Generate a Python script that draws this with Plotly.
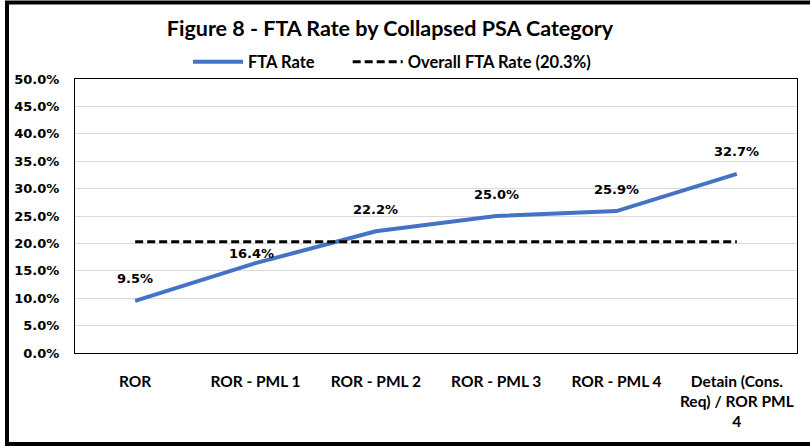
import plotly.graph_objects as go

categories = ["ROR", "ROR - PML 1", "ROR - PML 2", "ROR - PML 3", "ROR - PML 4",
              "Detain (Cons.<br>Req) / ROR PML<br>4"]
fta_rate = [9.5, 16.4, 22.2, 25.0, 25.9, 32.7]
overall_rate = [20.3] * len(categories)
label_text = ["9.5%", "16.4%", "22.2%", "25.0%", "25.9%", "32.7%"]
tick_vals = [0, 5, 10, 15, 20, 25, 30, 35, 40, 45, 50]
tick_text = ["0.0%", "5.0%", "10.0%", "15.0%", "20.0%", "25.0%", "30.0%",
             "35.0%", "40.0%", "45.0%", "50.0%"]

W, H = 810, 446
L, R, T, B = 75, 13, 79, 93
pw, ph = W - L - R, H - T - B

fig = go.Figure()
fig.add_trace(go.Scatter(x=categories, y=fta_rate, mode="lines",
                         name="FTA Rate" + "\u00a0" * 7,
                         line=dict(color="#4472C4", width=4)))
fig.add_trace(go.Scatter(x=categories, y=overall_rate, mode="lines",
                         name="Overall FTA Rate (20.3%)",
                         line=dict(color="black", width=3, dash="8px,4px")))

lab_font = dict(family="DejaVu Sans", size=13, color="black", weight="bold")
for i, (c, v, t) in enumerate(zip(categories, fta_rate, label_text)):
    xs, ys = 0, 22
    if i == 1:
        xs, ys = -4, 10
    fig.add_annotation(x=c, y=v, text=t, showarrow=False, xshift=xs, yshift=ys,
                       font=lab_font)

def px_x(p):
    return (p - L) / pw
def px_y(p):
    return 1 - (p - T) / ph
xl, xr = px_x(7), px_x(812)
yt, yb = px_y(2.5), px_y(444)
fig.add_shape(type="path", xref="paper", yref="paper",
              path=f"M {xr},{yt} L {xl},{yt} L {xl},{yb} L {xr},{yb}",
              line=dict(color="black", width=4), layer="above")

fig.update_layout(
    width=W, height=H,
    margin=dict(l=L, r=R, t=T, b=B, autoexpand=False),
    paper_bgcolor="white", plot_bgcolor="white",
    title=dict(text="Figure 8 - FTA Rate by Collapsed PSA Category",
               x=390 / W, xanchor="center", y=1 - 28 / H, yanchor="middle",
               yref="container",
               font=dict(family="Lato", size=21.5, color="black", weight="bold")),
    legend=dict(orientation="h", x=(188 - L) / pw, xanchor="left",
                y=1 + (T - 62) / ph, yanchor="middle",
                font=dict(family="Lato", size=16.5, color="black", weight="bold"),
                bgcolor="rgba(0,0,0,0)", itemwidth=50, tracegroupgap=0),
    showlegend=True,
)
fig.update_xaxes(type="category", range=[-0.5, len(categories) - 0.5],
                 showgrid=False, showline=True, linecolor="black",
                 linewidth=1, mirror=True, ticks="", ticklabelstandoff=14,
                 automargin=False,
                 tickfont=dict(family="Lato", size=15.5, color="black", weight="bold"),
                 fixedrange=True)
fig.update_yaxes(range=[0, 50], tickvals=tick_vals, ticktext=tick_text,
                 showgrid=True, gridcolor="#d9d9d9", gridwidth=1,
                 showline=True, linecolor="black", linewidth=1, mirror=True,
                 zeroline=False, ticks="", ticklabelstandoff=12, automargin=False,
                 tickfont=dict(family="DejaVu Sans", size=13, color="black", weight="bold"),
                 fixedrange=True)

fig.write_html("out.html", config={"displayModeBar": False},
               post_script="document.body.style.margin='0px';")
